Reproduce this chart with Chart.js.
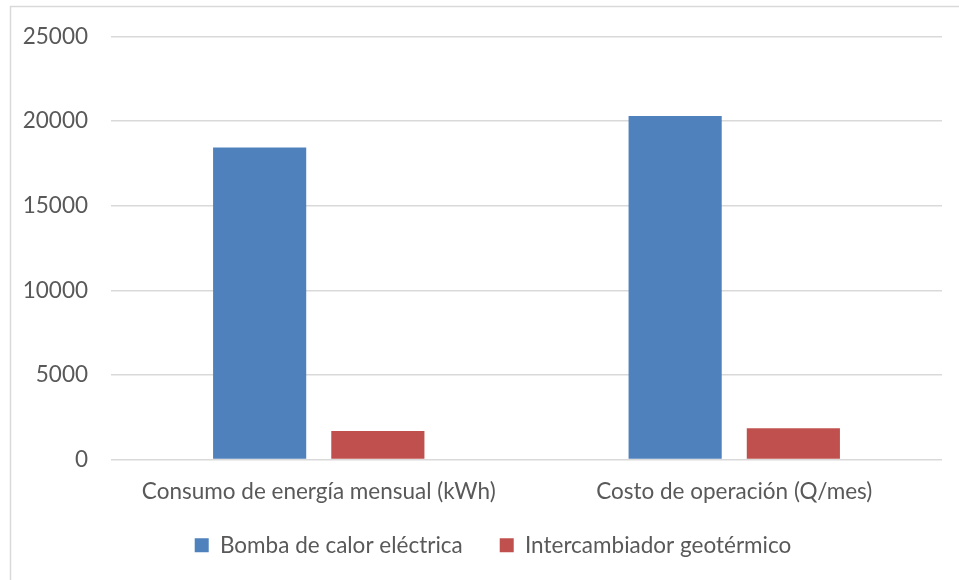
<!DOCTYPE html>
<html>
<head>
<meta charset="utf-8">
<script src="https://cdn.jsdelivr.net/npm/chart.js@4"></script>
<style>
  html, body { margin: 0; padding: 0; background: #ffffff; }
  #wrap { width: 959px; height: 580px; position: relative; }
</style>
</head>
<body>
<div id="wrap"><canvas id="chart" width="959" height="580"></canvas></div>
<script>
// Categories and series values
const categories = ['Consumo de energía mensual (kWh)', 'Costo de operación (Q/mes)'];
const seriesNames = ['Bomba de calor eléctrica', 'Intercambiador geotérmico'];
const bombaCalor = [18440, 20300];
const intercambiador = [1680, 1840];
const yMin = 0, yMax = 25000, yStep = 5000;

const textColor = '#595959';
const fontFamily = 'Lato, "Open Sans", "Liberation Sans", sans-serif';
const fontSize = 22.5;

// Light frame around the whole chart
const framePlugin = {
  id: 'frame',
  beforeDraw(chart) {
    const ctx = chart.ctx;
    ctx.save();
    ctx.fillStyle = '#ffffff';
    ctx.fillRect(0, 0, chart.width, chart.height);
    ctx.strokeStyle = '#d9d9d9';
    ctx.lineWidth = 1.5;
    ctx.strokeRect(10.5, 6.5, chart.width + 10, chart.height + 10);
    ctx.restore();
  }
};

// Compact legend box, moved up closer to the category labels and nudged right
const legendPlugin = {
  id: 'legendBox',
  afterInit(chart) {
    const lg = chart.legend;
    if (!lg) return;
    const fit = lg.fit;
    lg.fit = function () { fit.call(this); this.height = 64; };
  },
  afterLayout(chart) {
    const lg = chart.legend;
    if (!lg) return;
    lg.left += 22; lg.right += 22;
    lg.top -= 10.5; lg.bottom -= 10.5;
  }
};

new Chart(document.getElementById('chart'), {
  type: 'bar',
  data: {
    labels: categories,
    datasets: [
      { label: seriesNames[0], data: bombaCalor, backgroundColor: '#4F81BD', borderWidth: 0 },
      { label: seriesNames[1], data: intercambiador, backgroundColor: '#C0504D', borderWidth: 0 }
    ]
  },
  options: {
    responsive: false,
    animation: false,
    devicePixelRatio: 1,
    categoryPercentage: 0.569,
    barPercentage: 0.788,
    layout: { padding: { top: 36, right: 17, left: 0, bottom: 8.5 } },
    plugins: {
      tooltip: { enabled: false },
      legend: {
        position: 'bottom',
        labels: {
          color: textColor,
          font: { family: fontFamily, size: fontSize },
          boxWidth: 14,
          boxHeight: 14,
          padding: 37
        }
      }
    },
    scales: {
      x: {
        afterFit(scale) { scale.height = 48; },
        grid: { display: false },
        border: { display: false },
        ticks: {
          color: textColor,
          font: { family: fontFamily, size: fontSize },
          padding: 10.5,
          maxRotation: 0
        }
      },
      y: {
        min: yMin,
        max: yMax,
        afterFit(scale) { scale.width = 111; },
        grid: { color: '#d9d9d9', lineWidth: 1.5, drawTicks: false },
        border: { display: false },
        ticks: {
          stepSize: yStep,
          color: textColor,
          font: { family: fontFamily, size: fontSize },
          padding: 23,
          callback: v => String(v)
        }
      }
    }
  },
  plugins: [framePlugin, legendPlugin]
});
</script>
</body>
</html>
